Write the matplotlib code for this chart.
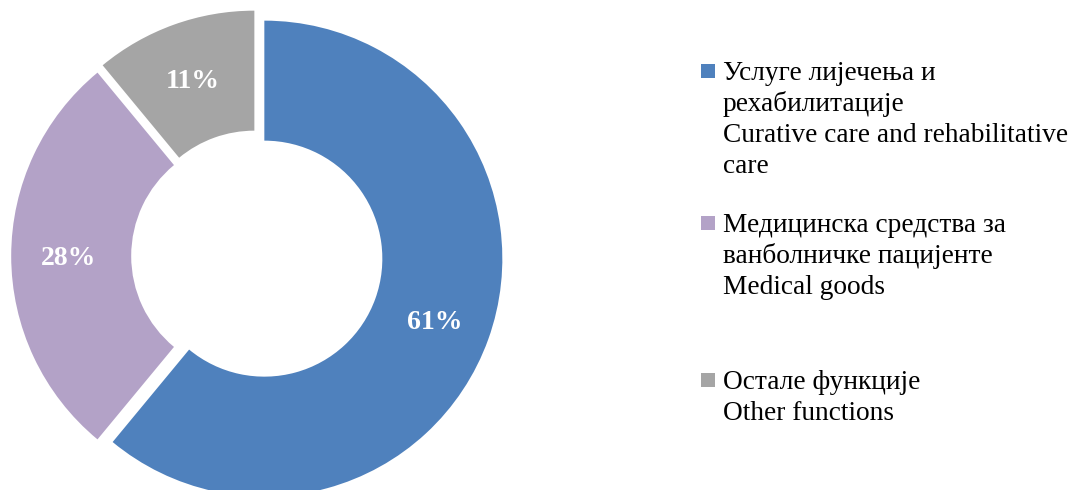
import matplotlib
matplotlib.use("Agg")
import matplotlib.pyplot as plt
from matplotlib.patches import Rectangle

# udjeli po funkcijama (%)
shares = [61, 28, 11]
colors = ['#4F81BD', '#B3A2C7', '#A5A5A5']
labels = [
    ["Услуге лијечења и", "рехабилитације", "Curative care and rehabilitative", "care"],
    ["Медицинска средства за", "ванболничке пацијенте", "Medical goods"],
    ["Остале функције", "Other functions"],
]

W, H = 1083, 490
plt.rcParams['font.family'] = ['Liberation Serif', 'DejaVu Serif']

fig = plt.figure(figsize=(W / 100, H / 100), dpi=100)
ax = fig.add_axes([0, 0, 1, 1])

# krug u pikselima
cx, cy, R, r = 257, H - 256, 238, 118
wedges, texts, autotexts = ax.pie(
    shares, colors=colors, startangle=90, counterclock=False,
    center=(cx, cy), radius=R, explode=[7.8] * len(shares),
    wedgeprops=dict(width=R - r, linewidth=0),
    autopct='%1.0f%%', pctdistance=0.76,
    textprops=dict(color='white', fontsize=20, fontweight='bold'))
for t in autotexts:
    t.set_va('center_baseline')

ax.set_xlim(0, W)
ax.set_ylim(0, H)
ax.set_aspect('equal')
ax.axis('off')

# legenda
baselines = [80, 232, 389]
step = 31
for lines, col, b in zip(labels, colors, baselines):
    ax.add_patch(Rectangle((701, H - b + 2), 14, 14, color=col, linewidth=0))
    for i, line in enumerate(lines):
        ax.text(723, H - b - i * step, line, fontsize=19.7, va='baseline',
                ha='left', color='black')

fig.savefig('out.png', dpi=100)
